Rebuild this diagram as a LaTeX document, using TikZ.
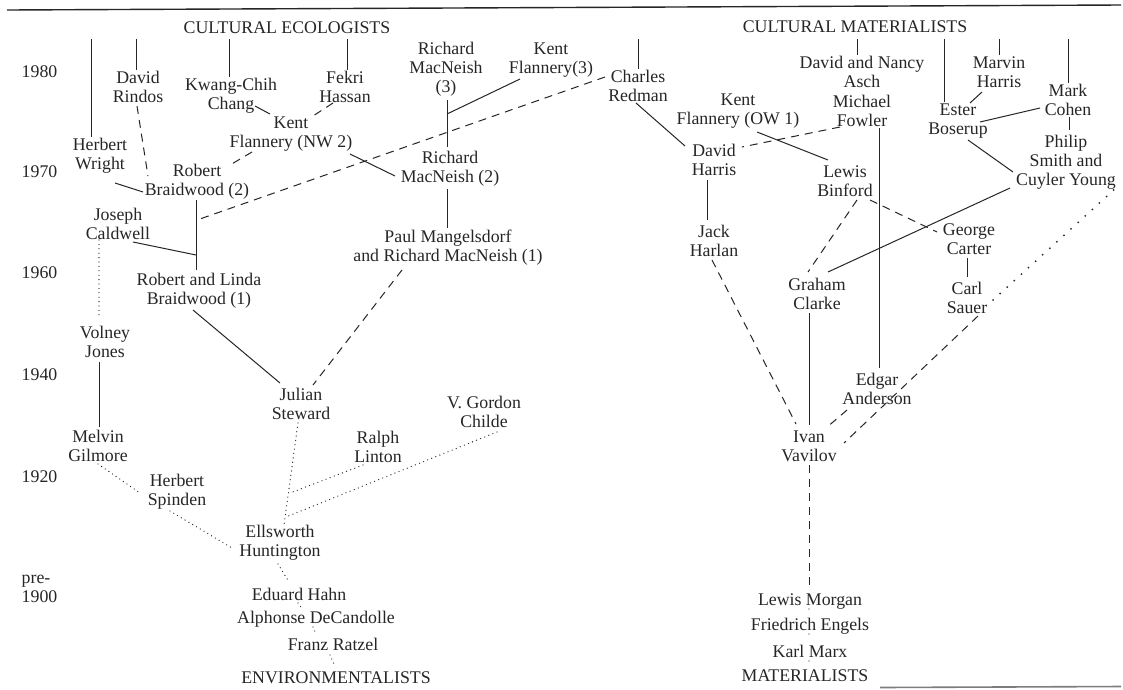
\documentclass[tikz,border=0pt]{standalone}
\usepackage{fontspec}
\setmainfont{Liberation Serif}
\usetikzlibrary{calc}
\definecolor{ink}{HTML}{262626}

\begin{document}
\begin{tikzpicture}[x=1pt, y=-1pt]
	\tikzstyle{person} = [align=center, inner sep=1.5pt, text=ink, font=\fontsize{17.8}{19}\selectfont]
	\tikzstyle{link}   = [draw=ink, line width=1pt]
	\tikzstyle{guess}  = [link, dash pattern=on 8pt off 6pt]
	\tikzstyle{trace}  = [draw=ink, line width=1.3pt, line cap=round, dash pattern=on 0pt off 4.4pt]
	\tikzstyle{sparse} = [draw=ink, line width=2pt, line cap=round, dash pattern=on 0pt off 9.6pt]

	\path[use as bounding box, fill=white] (0,0) rectangle (1123,689);
	\draw[ink, line width=1.4pt] (7,10) -- (1121,5);
	\draw[ink!60, line width=1.6pt] (880,687.5) -- (1121,686.5);

	% time scale
	\foreach \id/\y/\txt in {y80/72/1980, y70/172/1970, y60/273/1960, y40/375/1940, y20/477/1920, y00/589/pre-\\1900}
		\node[person, align=left, anchor=west] (\id) at (20,\y) {\txt};

	% schools
	\node[person] (ce)  at (287,28)  {CULTURAL ECOLOGISTS};
	\node[person] (cm)  at (855,27)  {CULTURAL MATERIALISTS};
	\node[person] (env) at (336,678) {ENVIRONMENTALISTS};
	\node[person] (mat) at (805,676) {MATERIALISTS};

	% people
	\foreach \id/\x/\y/\txt in {hw/100/156/Herbert\\Wright, dr/138/87/David\\Rindos, kc/231/96/Kwang-Chih\\Chang,
			fh/345/87/Fekri\\Hassan, kf2/291/134/Kent\\Flannery (NW 2), rb2/197/182/Robert\\Braidwood (2),
			jc/118/224/Joseph\\Caldwell, rm3/446/69/Richard\\MacNeish\\(3), kf3/551/60/Kent\\Flannery(3),
			cr/638/86/Charles\\Redman, rm2/450/169/Richard\\MacNeish (2),
			pm/448/248/Paul Mangelsdorf\\and Richard MacNeish (1), rlb/199/291/Robert and Linda\\Braidwood (1),
			vj/105/342/Volney\\Jones, js/301/404/Julian\\Steward, mg/98/446/Melvin\\Gilmore,
			rl/378/447/Ralph\\Linton, vgc/484/412/V. Gordon\\Childe, hs/177/492/Herbert\\Spinden,
			eh/280/543/Ellsworth\\Huntington, edh/299/594/Eduard Hahn, adc/316/619/Alphonse DeCandolle,
			fr/333/644/Franz Ratzel,
			dna/862/72/David and Nancy\\Asch, mf/862/111/Michael\\Fowler, mh/999/72/Marvin\\Harris,
			eb/958/121/Ester\\Boserup, mc/1068/100/Mark\\Cohen, ps/1066/162/Philip\\Smith and\\Cuyler Young,
			kf1/738/111/Kent\\Flannery (OW 1), dh/714/160/David\\Harris, lb/845/181/Lewis\\Binford,
			jh/714/241/Jack\\Harlan, gc/969/239/George\\Carter, gcl/817/294/Graham\\Clarke,
			cs/967/298/Carl\\Sauer, ea/877/389/Edgar\\Anderson, iv/809/446/Ivan\\Vavilov,
			lm/810/602/Lewis Morgan, fe/810/626/Friedrich Engels, km/810/651/Karl Marx}
		\node[person] (\id) at (\x,\y) {\txt};

	% joins on other lines
	\coordinate (rbj) at ($(rb2)+(0,38)$);
	\coordinate (caj) at ($(rb2)+(-1,73)$);
	\coordinate (mnj) at ($(rm3)+(1,45)$);
	\coordinate (slj) at ($(eh)+(10,-50)$);
	\coordinate (scj) at ($(eh)+(6,-26)$);

	% lines down from the top
	\foreach \id/\x in {hw/91, dr/136, kc/229, fh/347, cr/638, dna/857, eb/944, mh/999, mc/1068}{
		\coordinate (top\id) at (\x,39);
		\draw[link] (top\id) -- (top\id |- \id.north);
	}

	% solid
	\foreach \from/\fx/\fy/\to/\tx/\ty in {hw/15/27/rb2/-54/10, kc/24/10/kf2/-21/-20, kf2/59/20/rm2/-55/7,
			rb2/-1/18/rlb/-3/-21, jc/15/18/caj/0/0, vj/-6/20/mg/1/-19, rlb/-6/19/js/-21/-21,
			rm3/1/31/rm2/-3/-22, kf3/-31/19/mnj/0/0, rm2/-3/20/pm/-1/-20,
			cr/-2/17/dh/-29/-14, kf1/19/21/lb/-17/-21, mf/17/17/ea/2/-21, mh/-17/20/eb/12/-18,
			mc/-28/8/eb/22/1, mc/1/17/ps/3/-32, eb/10/19/ps/-53/10, ps/-56/26/gcl/11/-22,
			gc/-2/19/cs/0/-21, dh/-7/20/jh/-7/-21, gcl/-8/19/iv/0/-21}
		\draw[link] ($(\from)+(\fx,\fy)$) -- ($(\to)+(\tx,\ty)$);

	% dashed
	\foreach \from/\fx/\fy/\to/\tx/\ty in {dr/-1/19/rb2/-49/-6, fh/-12/16/kf2/22/-18, kf2/-39/18/rb2/33/-17,
			cr/-33/-9/rbj/0/0, pm/-46/22/js/12/-19, mf/-22/16/dh/28/-13, lb/25/19/gc/-32/-7,
			lb/12/19/gcl/-9/-22, jh/-2/19/iv/-13/-22, ea/-30/21/iv/17/-18, cs/11/18/iv/35/-3,
			iv/0/19/lm/-1/-16}
		\draw[guess] ($(\from)+(\fx,\fy)$) -- ($(\to)+(\tx,\ty)$);

	% dotted
	\foreach \from/\fx/\fy/\to/\tx/\ty in {jc/-19/16/vj/-6/-24, js/-3/19/eh/4/-18, rl/-15/18/slj/0/0,
			vgc/13/20/scj/0/0, mg/0/18/hs/-37/1, hs/-7/19/eh/-48/5,
			eh/-2/21/edh/-10/-12, edh/-1/9/adc/-13/-9, adc/-3/8/fr/-17/-10, fr/-3/11/env/-1/-12,
			lm/-1/7/fe/-1/-16, fe/-1/8/km/-1/-16, km/-1/10/mat/4/-14}
		\draw[trace] ($(\from)+(\fx,\fy)$) -- ($(\to)+(\tx,\ty)$);

	\draw[sparse] ($(cs)+(26,2)$) -- ($(ps)+(51,25)$);
\end{tikzpicture}
\end{document}
